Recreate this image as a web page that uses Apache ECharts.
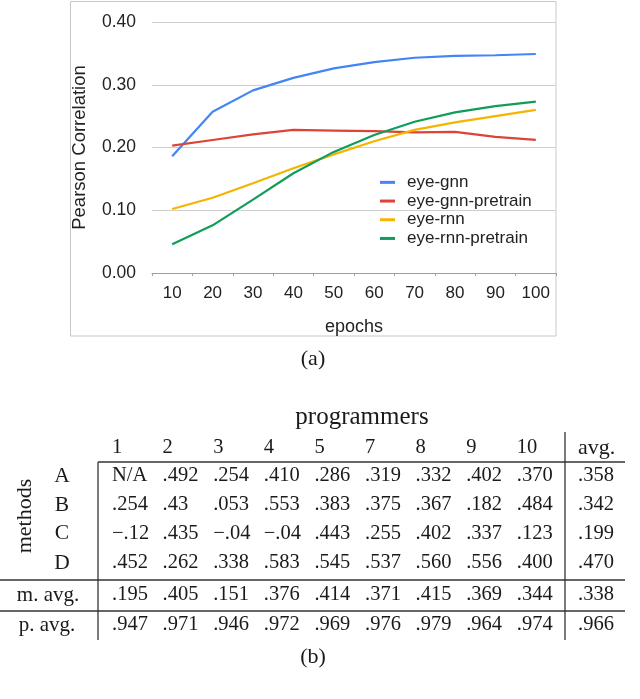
<!DOCTYPE html>
<html>
<head>
<meta charset="utf-8">
<script src="https://cdn.jsdelivr.net/npm/echarts@6/dist/echarts.min.js"></script>
<style>
html,body{margin:0;padding:0;background:#fff;}
#main{width:640px;height:699px;}
</style>
</head>
<body>
<div id="main"></div>
<script>
// ---- chart (a) data ----
var epochs = ['10','20','30','40','50','60','70','80','90','100'];
var eyeGnn = [0.186,0.257,0.291,0.311,0.326,0.336,0.343,0.346,0.347,0.349];
var eyeGnnPretrain = [0.203,0.212,0.221,0.228,0.227,0.226,0.224,0.225,0.217,0.212];
var eyeRnn = [0.102,0.120,0.143,0.167,0.189,0.210,0.228,0.240,0.250,0.260];
var eyeRnnPretrain = [0.046,0.076,0.117,0.159,0.193,0.220,0.241,0.256,0.266,0.273];
var seriesNames = ['eye-gnn','eye-gnn-pretrain','eye-rnn','eye-rnn-pretrain'];

// ---- table (b) data ----
var programmerLabels = ['1','2','3','4','5','7','8','9','10'];
var methodLabels = ['A','B','C','D'];
var methodA = ['N/A','.492','.254','.410','.286','.319','.332','.402','.370'];
var methodB = ['.254','.43','.053','.553','.383','.375','.367','.182','.484'];
var methodC = ['\u2212.12','.435','\u2212.04','\u2212.04','.443','.255','.402','.337','.123'];
var methodD = ['.452','.262','.338','.583','.545','.537','.560','.556','.400'];
var methodAvg = ['.358','.342','.199','.470'];
var mAvgRow = ['.195','.405','.151','.376','.414','.371','.415','.369','.344'];
var mAvgAll = '.338';
var pAvgRow = ['.947','.971','.946','.972','.969','.976','.979','.964','.974'];
var pAvgAll = '.966';

var chart = echarts.init(document.getElementById('main'), null, {renderer:'canvas'});

var SANS = '"Liberation Sans", Arial, Helvetica, sans-serif';
var SERIF = '"Liberation Serif", "Times New Roman", serif';
var colors = ['#4285F4','#DB4437','#F4B400','#0F9D58'];

// ---- table layout ----
var g = [];
var colX0 = 112, colStep = 50.6, avgX = 578;
var numFs = 20.5, wordFs = 22;
function txt(s, x, y, fs, align, extra) {
  var o = {type:'text', x:x, y:y, silent:true,
    style:{text:s, fontSize:fs, fontFamily:SERIF, fill:'#1a1a1a', align:align||'left', verticalAlign:'middle'}};
  if (extra) for (var k in extra) o[k] = extra[k];
  return o;
}
function ln(x1,y1,x2,y2){
  return {type:'line', silent:true, shape:{x1:x1,y1:y1,x2:x2,y2:y2}, style:{stroke:'#333', lineWidth:1.3}};
}
// captions
g.push(txt('(a)', 313, 359, wordFs, 'center'));
g.push(txt('(b)', 313, 657, wordFs, 'center'));
g.push(txt('programmers', 362, 417, 25, 'center'));
g.push(txt('methods', 25, 516, wordFs, 'center', {rotation: Math.PI/2}));
// header
programmerLabels.forEach(function(l,i){ g.push(txt(l, colX0 + i*colStep, 448, numFs, 'left')); });
g.push(txt('avg.', avgX, 448, wordFs, 'left'));
// method rows
var methodRows = [methodA, methodB, methodC, methodD];
var rowY = [476, 505, 533.5, 563];
methodRows.forEach(function(row, r){
  g.push(txt(methodLabels[r], 62, rowY[r], numFs+1, 'center'));
  row.forEach(function(v,i){ g.push(txt(v, colX0 + i*colStep, rowY[r], numFs, 'left')); });
  g.push(txt(methodAvg[r], avgX, rowY[r], numFs, 'left'));
});
// m. avg
g.push(txt('m. avg.', 48, 595, wordFs-1, 'center'));
mAvgRow.forEach(function(v,i){ g.push(txt(v, colX0 + i*colStep, 595, numFs, 'left')); });
g.push(txt(mAvgAll, avgX, 595, numFs, 'left'));
// p. avg
g.push(txt('p. avg.', 47, 625, wordFs-1, 'center'));
pAvgRow.forEach(function(v,i){ g.push(txt(v, colX0 + i*colStep, 625, numFs, 'left')); });
g.push(txt(pAvgAll, avgX, 625, numFs, 'left'));
// rules
g.push(ln(98, 462, 625, 462));
g.push(ln(98, 462, 98, 640));
g.push(ln(565, 432, 565, 640));
g.push(ln(0, 580, 625, 580));
g.push(ln(0, 611, 625, 611));
// chart frame
g.push({type:'rect', silent:true, z:-1, shape:{x:70.5, y:1.5, width:485.5, height:334.5},
  style:{fill:'none', stroke:'#c8c8c8', lineWidth:1}});

var seriesData = [eyeGnn, eyeGnnPretrain, eyeRnn, eyeRnnPretrain];

chart.setOption({
  animation:false,
  backgroundColor:'#fff',
  color: colors,
  grid:{left:152, right:84, top:22, bottom:426, containLabel:false},
  legend:{
    orient:'vertical', left:380, top:173, padding:0,
    itemWidth:15, itemHeight:3, itemGap:0,
    icon:'rect',
    data: seriesNames.map(function(n,i){ return {name:n, itemStyle:{color:colors[i]}}; }),
    textStyle:{fontFamily:SANS, fontSize:17, color:'#222', lineHeight:18.7, padding:[0,0,0,7]}
  },
  xAxis:{
    type:'category', data:epochs, boundaryGap:true,
    name:'epochs', nameLocation:'middle', nameGap:45,
    nameTextStyle:{fontFamily:SANS, fontSize:18, color:'#222'},
    axisLine:{lineStyle:{color:'#a0a0a0', width:1}},
    axisTick:{show:true, length:3, lineStyle:{color:'#a0a0a0'}},
    axisLabel:{fontFamily:SANS, fontSize:17, color:'#222', margin:12}
  },
  yAxis:{
    type:'value', min:0, max:0.4, interval:0.1,
    name:'Pearson Correlation', nameLocation:'middle', nameGap:63,
    nameTextStyle:{fontFamily:SANS, fontSize:18.5, color:'#222'},
    axisLine:{show:false}, axisTick:{show:false},
    splitLine:{lineStyle:{color:'#cfcfcf', width:1}},
    axisLabel:{fontFamily:SANS, fontSize:17.5, color:'#222', margin:16,
      formatter:function(v){ return v.toFixed(2); }}
  },
  series: seriesNames.map(function(n,i){
    return {name:n, type:'line', data:seriesData[i], symbol:'none', smooth:false,
      lineStyle:{width:2.2, color:colors[i]}, itemStyle:{color:colors[i]}};
  }),
  graphic: g
});
</script>
</body>
</html>
